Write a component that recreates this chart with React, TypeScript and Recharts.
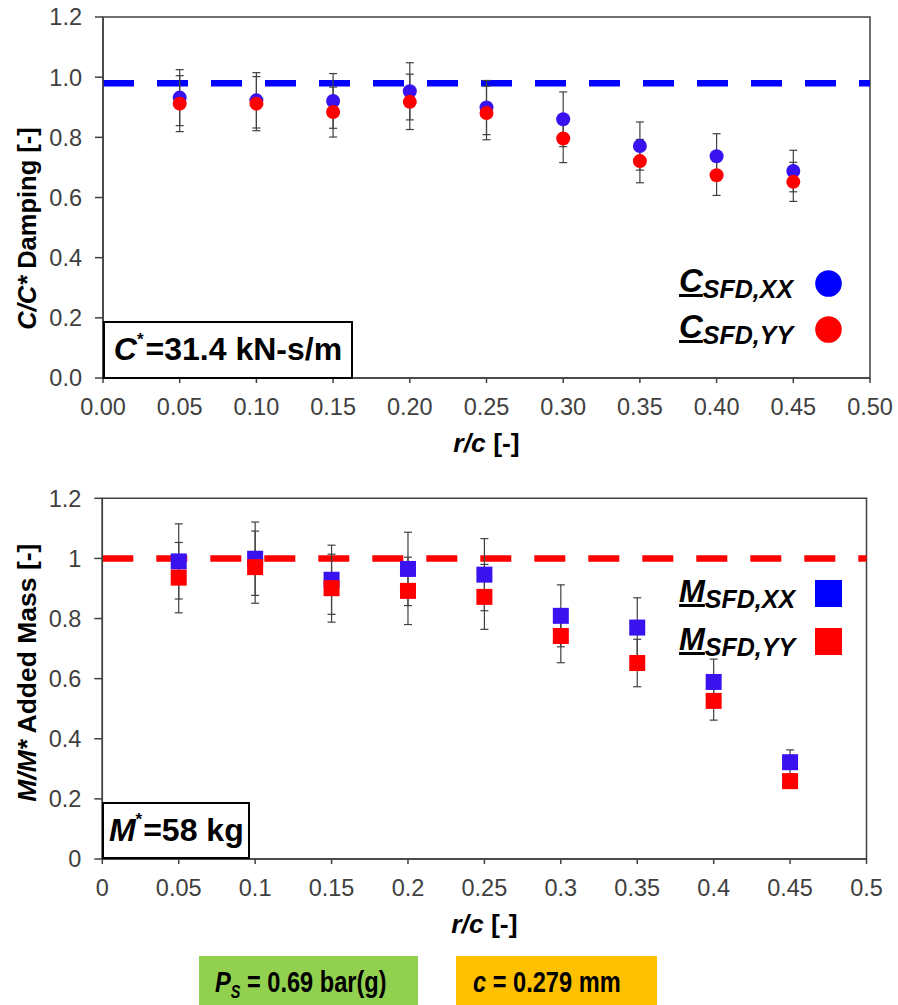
import React from 'react'
import {
  ErrorBar,
  Legend,
  Label,
  ReferenceArea,
  ReferenceLine,
  Scatter,
  ScatterChart,
  XAxis,
  YAxis,
} from 'recharts'

// r/c positions shared by both plots
const rc = [0.05, 0.1, 0.15, 0.2, 0.25, 0.3, 0.35, 0.4, 0.45]

// damping C/C*
const cXX = [0.932, 0.923, 0.921, 0.953, 0.899, 0.86, 0.771, 0.737, 0.688]
const cXXErr = [0.093, 0.092, 0.091, 0.095, 0.09, 0.091, 0.08, 0.075, 0.069]
const cYY = [0.912, 0.912, 0.884, 0.918, 0.881, 0.796, 0.721, 0.674, 0.652]
const cYYErr = [0.093, 0.09, 0.083, 0.092, 0.089, 0.08, 0.072, 0.067, 0.065]
const cRef = 0.98

// added mass M/M*
const mXX = [0.99, 0.999, 0.929, 0.965, 0.946, 0.809, 0.77, 0.589, 0.322]
const mXXErr = [0.125, 0.122, 0.115, 0.122, 0.12, 0.103, 0.099, 0.076, 0.041]
const mYY = [0.936, 0.971, 0.901, 0.892, 0.872, 0.742, 0.652, 0.526, 0.259]
const mYYErr = [0.117, 0.12, 0.113, 0.112, 0.108, 0.089, 0.079, 0.064, 0.024]
const mRef = 1.0

const xTicks = [0, 0.05, 0.1, 0.15, 0.2, 0.25, 0.3, 0.35, 0.4, 0.45, 0.5]
const yTicks = [0, 0.2, 0.4, 0.6, 0.8, 1.0, 1.2]

const FONT = "'Liberation Sans', Arial, sans-serif"
const AXIS = '#404040'
const BLUE_PT = '#3a12f0'
const RED_PT = '#ff0000'

const toPoints = (ys: number[], errs: number[]) =>
  rc.map((x, i) => ({ x, y: ys[i], err: errs[i] }))

const tickStyle = { fill: AXIS, fontSize: 23.5, fontFamily: FONT }

const dot = (color: string) => (p: any) => (
  <circle cx={p.cx} cy={p.cy} r={7} fill={color} />
)
const square = (color: string) => (p: any) => (
  <rect x={p.cx - 8} y={p.cy - 8} width={16} height={16} fill={color} />
)
const noShape = () => <g />

const yTitle = (italic: string, rest: string, cyOffset: number, size: number) => (props: any) => {
  const vb = props.viewBox ?? { x: 0, y: 0, width: 0, height: 0 }
  const cx = 36
  const cy = vb.y + vb.height / 2 + cyOffset
  return (
    <text
      x={cx}
      y={cy}
      transform={`rotate(-90 ${cx} ${cy})`}
      textAnchor="middle"
      fontFamily={FONT}
      fontSize={size}
      fontWeight="bold"
      fill="#000"
    >
      <tspan fontStyle="italic">{italic}</tspan>
      <tspan>{rest}</tspan>
    </text>
  )
}

const xTitle = (props: any) => {
  const vb = props.viewBox ?? { x: 0, y: 0, width: 0, height: 0 }
  return (
    <text
      x={vb.x + vb.width / 2}
      y={vb.y + 74}
      textAnchor="middle"
      fontFamily={FONT}
      fontSize={26.5}
      fontWeight="bold"
      fill="#000"
    >
      <tspan fontStyle="italic">r/c</tspan>
      <tspan> [-]</tspan>
    </text>
  )
}

function LegendRows({
  letter,
  shape,
  rowH,
  size,
}: {
  letter: string
  shape: 'circle' | 'square'
  rowH: number
  size: number
}) {
  const rows = [
    { sub: 'SFD,XX', color: '#0000ff' },
    { sub: 'SFD,YY', color: '#ff0000' },
  ]
  return (
    <div style={{ fontFamily: FONT, fontWeight: 'bold', fontStyle: 'italic', color: '#000' }}>
      {rows.map((r) => (
        <div key={r.sub} style={{ display: 'flex', alignItems: 'center', height: rowH }}>
          <span style={{ whiteSpace: 'nowrap', width: 120, lineHeight: 1 }}>
            <span style={{ fontSize: size, textDecoration: 'underline' }}>{letter}</span>
            <span style={{ fontSize: 25, verticalAlign: -6 }}>{r.sub}</span>
          </span>
          <svg width={27} height={27} style={{ marginLeft: 16 }}>
            {shape === 'circle' ? (
              <circle cx={13.5} cy={13.5} r={13.3} fill={r.color} />
            ) : (
              <rect x={0} y={0} width={27} height={27} fill={r.color} />
            )}
          </svg>
        </div>
      ))}
    </div>
  )
}

const annotBox = (left: number, top: number, w: number, h: number): React.CSSProperties => ({
  position: 'absolute',
  left,
  top,
  width: w,
  height: h,
  boxSizing: 'border-box',
  border: '2px solid #000',
  background: '#fff',
  display: 'flex',
  alignItems: 'center',
  justifyContent: 'center',
  fontFamily: FONT,
  fontWeight: 'bold',
  fontSize: 32,
  color: '#000',
  whiteSpace: 'nowrap',
})

const condBox = (left: number, w: number, bg: string): React.CSSProperties => ({
  position: 'absolute',
  left,
  top: 956,
  width: w,
  height: 60,
  background: bg,
  boxSizing: 'border-box',
  paddingLeft: 16,
  paddingTop: 9,
  whiteSpace: 'nowrap',
})

// condensed look of the original narrow font
const narrowText: React.CSSProperties = {
  display: 'inline-block',
  fontFamily: FONT,
  fontWeight: 'bold',
  fontSize: 29.5,
  color: '#000',
  transform: 'scaleX(0.8)',
  transformOrigin: 'left center',
}

export default function App() {
  const cXXData = toPoints(cXX, cXXErr)
  const cYYData = toPoints(cYY, cYYErr)
  const mXXData = toPoints(mXX, mXXErr)
  const mYYData = toPoints(mYY, mYYErr)

  return (
    <div
      style={{
        position: 'absolute',
        left: 0,
        top: 0,
        width: 898,
        height: 1005,
        background: '#fff',
        overflow: 'hidden',
      }}
    >
      {/* damping */}
      <div style={{ position: 'absolute', left: 0, top: 0 }}>
        <ScatterChart width={898} height={470} margin={{ top: 17, right: 28, bottom: 32, left: 0 }}>
          <XAxis
            type="number"
            dataKey="x"
            domain={[0, 0.5]}
            ticks={xTicks}
            tickFormatter={(v: number) => v.toFixed(2)}
            tick={tickStyle}
            tickSize={5}
            tickMargin={15}
            height={60}
            stroke={AXIS}
            strokeWidth={1.5}
            allowDataOverflow
          >
            <Label content={xTitle} />
          </XAxis>
          <YAxis
            type="number"
            dataKey="y"
            domain={[0, 1.2]}
            ticks={yTicks}
            tickFormatter={(v: number) => v.toFixed(1)}
            tick={tickStyle}
            tickSize={8}
            tickMargin={13}
            width={103}
            stroke={AXIS}
            strokeWidth={1.5}
            allowDataOverflow
          >
            <Label content={yTitle('C/C*', ' Damping [-]', 31, 25.5)} />
          </YAxis>
          <ReferenceArea x1={0} x2={0.5} y1={0} y2={1.2} fill="none" stroke={AXIS} strokeWidth={1.5} />
          <ReferenceLine y={cRef} stroke="#0000ff" strokeWidth={6.5} strokeDasharray="31 23" />
          <Scatter data={cXXData} shape={noShape} isAnimationActive={false} legendType="none">
            <ErrorBar dataKey="err" direction="y" width={4} stroke={AXIS} strokeWidth={1.2} />
          </Scatter>
          <Scatter data={cYYData} shape={noShape} isAnimationActive={false} legendType="none">
            <ErrorBar dataKey="err" direction="y" width={4} stroke={AXIS} strokeWidth={1.2} />
          </Scatter>
          <Scatter data={cXXData} shape={dot(BLUE_PT)} isAnimationActive={false} />
          <Scatter data={cYYData} shape={dot(RED_PT)} isAnimationActive={false} />
          <Legend
            verticalAlign="middle"
            content={() => <LegendRows letter="C" shape="circle" rowH={46} size={33} />}
            wrapperStyle={{ left: 679, top: 260, width: 'auto' }}
          />
        </ScatterChart>
        <div style={annotBox(103, 320.5, 250, 58.5)}>
          <span style={{ fontStyle: 'italic' }}>C</span>
          <span style={{ fontSize: 17, position: 'relative', top: -10, marginRight: 2 }}>*</span>
          <span>=31.4 kN-s/m</span>
        </div>
      </div>

      {/* added mass */}
      <div style={{ position: 'absolute', left: 0, top: 470 }}>
        <ScatterChart width={898} height={470} margin={{ top: 28.3, right: 31.5, bottom: 21, left: 0 }}>
          <XAxis
            type="number"
            dataKey="x"
            domain={[0, 0.5]}
            ticks={xTicks}
            tickFormatter={(v: number) => String(+v.toFixed(2))}
            tick={tickStyle}
            tickSize={5}
            tickMargin={15}
            height={60}
            stroke={AXIS}
            strokeWidth={1.5}
            allowDataOverflow
          >
            <Label content={xTitle} />
          </XAxis>
          <YAxis
            type="number"
            dataKey="y"
            domain={[0, 1.2]}
            ticks={yTicks}
            tickFormatter={(v: number) => String(+v.toFixed(1))}
            tick={tickStyle}
            tickSize={8}
            tickMargin={13}
            width={102.3}
            stroke={AXIS}
            strokeWidth={1.5}
            allowDataOverflow
          >
            <Label content={yTitle('M/M*', ' Added Mass [-]', -6, 26.5)} />
          </YAxis>
          <ReferenceArea x1={0} x2={0.5} y1={0} y2={1.2} fill="none" stroke={AXIS} strokeWidth={1.5} />
          <ReferenceLine y={mRef} stroke="#ff0000" strokeWidth={6.5} strokeDasharray="31 23" />
          <Scatter data={mXXData} shape={noShape} isAnimationActive={false} legendType="none">
            <ErrorBar dataKey="err" direction="y" width={4} stroke={AXIS} strokeWidth={1.2} />
          </Scatter>
          <Scatter data={mYYData} shape={noShape} isAnimationActive={false} legendType="none">
            <ErrorBar dataKey="err" direction="y" width={4} stroke={AXIS} strokeWidth={1.2} />
          </Scatter>
          <Scatter data={mXXData} shape={square(BLUE_PT)} isAnimationActive={false} />
          <Scatter data={mYYData} shape={square(RED_PT)} isAnimationActive={false} />
          <Legend
            verticalAlign="middle"
            content={() => <LegendRows letter="M" shape="square" rowH={48} size={31} />}
            wrapperStyle={{ left: 679, top: 99.5, width: 'auto' }}
          />
        </ScatterChart>
        <div style={annotBox(102.3, 331.7, 148, 57.6)}>
          <span style={{ fontStyle: 'italic' }}>M</span>
          <span style={{ fontSize: 17, position: 'relative', top: -10, marginRight: 1 }}>*</span>
          <span>=58 kg</span>
        </div>
      </div>

      {/* test conditions */}
      <div style={condBox(199, 219, '#92d050')}>
        <span style={narrowText}>
          <span style={{ fontStyle: 'italic' }}>P</span>
          <span style={{ fontStyle: 'italic', fontSize: 18, verticalAlign: -6 }}>S</span>
          <span> = 0.69 bar(g)</span>
        </span>
      </div>
      <div style={{ ...condBox(456, 201, '#ffc000'), paddingLeft: 17 }}>
        <span style={narrowText}>
          <span style={{ fontStyle: 'italic' }}>c</span>
          <span> = 0.279 mm</span>
        </span>
      </div>
    </div>
  )
}
